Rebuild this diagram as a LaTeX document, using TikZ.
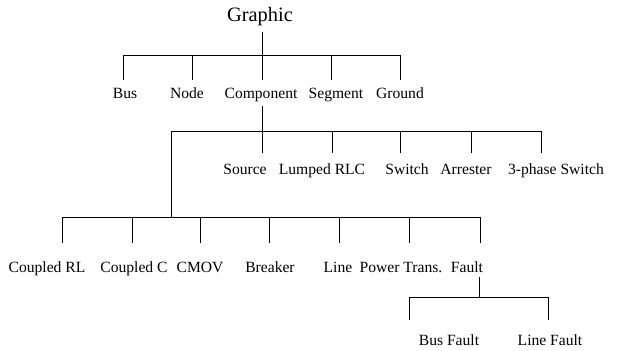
\documentclass[tikz,border=0pt]{standalone}
\usepackage{fontspec}
\setmainfont{Liberation Serif}
\usetikzlibrary{positioning,calc}

\begin{document}
\begin{tikzpicture}[x=0.5pt,y=-0.5pt,line width=0.5pt,
    lbl/.style={anchor=base,inner sep=0pt,font=\fontsize{7.8}{9}\selectfont},
    root/.style={lbl,font=\fontsize{10.2}{12}\selectfont}]
    \useasboundingbox (0,0) rectangle (621,350);

    % top level
    \node[root] (graphic) at (260,21) {Graphic};
    \foreach \nm/\x/\cx/\txt in {bus/123/125/Bus, nde/192/187/Node, comp/262/261/Component,
                                 seg/331/336/Segment, gnd/400/400/Ground} {
        \coordinate (\nm-j) at (\x,55);
        \coordinate (\nm-e) at (\x,80);
        \draw (\nm-j) -- (\nm-e);
        \node[lbl] (\nm) at (\cx,98) {\txt};
    }
    \draw ([yshift=-3pt]graphic.south -| comp-j) -- (comp-j);
    \draw (bus-j) -- (gnd-j);

    % components
    \foreach \nm/\x/\cx/\txt in {src/262/245/Source, rlc/332/322/Lumped RLC, sw/400/407/Switch,
                                 arr/471/466/Arrester, swt/541/556/3-phase Switch} {
        \coordinate (\nm-j) at (\x,131);
        \coordinate (\nm-e) at (\x,153);
        \draw (\nm-j) -- (\nm-e);
        \node[lbl] (\nm) at (\cx,174) {\txt};
    }
    \coordinate (sub-j) at (171,131);
    \coordinate (sub-e) at (171,217);
    \draw ([yshift=-2pt]comp.south -| comp-j) -- (src-j);
    \draw (sub-j) -- (swt-j);
    \draw (sub-j) -- (sub-e);

    % coupled and other components
    \foreach \nm/\x/\cx/\txt in {crl/62/47/Coupled RL, cc/132/134/Coupled C, cmov/200/200/CMOV,
                                 brk/269/270/Breaker, line/339/338/Line, pt/409/401/Power Trans.,
                                 flt/480/467/Fault} {
        \coordinate (\nm-j) at (\x,217);
        \coordinate (\nm-e) at (\x,243);
        \draw (\nm-j) -- (\nm-e);
        \node[lbl] (\nm) at (\cx,272) {\txt};
    }
    \draw (crl-j) -- (flt-j);

    % faults
    \foreach \nm/\x/\cx/\txt in {bf/409/449/Bus Fault, lf/548/550/Line Fault} {
        \coordinate (\nm-j) at (\x,297);
        \coordinate (\nm-e) at (\x,320);
        \draw (\nm-j) -- (\nm-e);
        \node[lbl] (\nm) at (\cx,345) {\txt};
    }
    \coordinate (flt-s) at (479,277);
    \draw (flt-s) -- (flt-s |- bf-j);
    \draw (bf-j) -- (lf-j);
\end{tikzpicture}
\end{document}
